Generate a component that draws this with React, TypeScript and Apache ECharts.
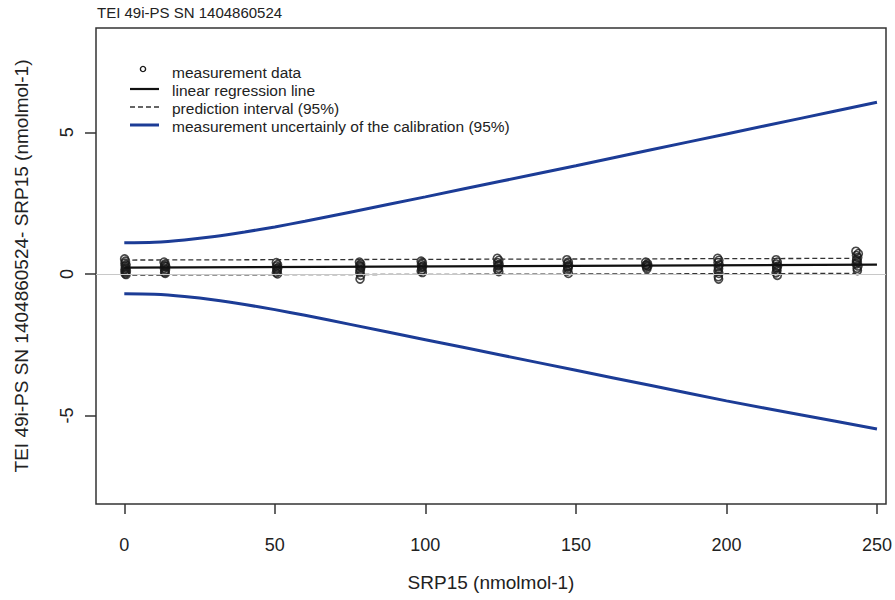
import React, { useEffect, useRef } from "react";
import * as echarts from "echarts";

const titleText = "TEI 49i-PS SN 1404860524";
const xAxisName = "SRP15 (nmolmol-1)";
const yAxisName = "TEI 49i-PS SN 1404860524- SRP15 (nmolmol-1)";
const legendNames = [
  "measurement data",
  "linear regression line",
  "prediction interval (95%)",
  "measurement uncertainly of the calibration (95%)",
];
const xTicks = [0, 50, 100, 150, 200, 250];
const yTicks = [-5, 0, 5];

// measurement data: [x, y]
const measurements: number[][] = [
  [0.1, 0.53], [0.4, 0.45], [0.2, 0.38], [0.6, 0.32], [0.3, 0.28], [0.5, 0.22], [0.2, 0.15], [0.7, 0.1], [0.4, 0.05], [0.3, 0.0], [0.6, -0.02], [0.5, 0.18], [0.3, 0.08],
  [13.2, 0.42], [13.6, 0.35], [13.4, 0.3], [13.8, 0.25], [13.3, 0.2], [13.7, 0.15], [13.5, 0.1], [13.4, 0.05], [13.6, 0.02], [13.5, 0.27],
  [50.5, 0.4], [50.9, 0.33], [50.6, 0.28], [51.0, 0.22], [50.7, 0.16], [50.8, 0.1], [50.5, 0.04], [50.9, 0.0], [50.7, 0.19],
  [78.1, 0.42], [78.5, 0.35], [78.2, 0.3], [78.6, 0.24], [78.3, 0.18], [78.4, 0.12], [78.2, 0.05], [78.5, -0.05], [78.3, -0.18], [78.4, 0.27],
  [98.6, 0.45], [99.0, 0.4], [98.7, 0.33], [99.1, 0.28], [98.8, 0.22], [98.9, 0.15], [98.6, 0.1], [99.0, 0.05], [98.8, 0.25],
  [123.9, 0.55], [124.4, 0.48], [124.0, 0.4], [124.5, 0.34], [124.2, 0.28], [124.3, 0.2], [124.0, 0.14], [124.4, 0.08], [124.2, 0.31],
  [147.0, 0.5], [147.5, 0.42], [147.2, 0.36], [147.6, 0.3], [147.3, 0.24], [147.4, 0.18], [147.1, 0.1], [147.5, 0.02], [147.3, 0.27],
  [173.2, 0.42], [173.8, 0.36], [173.4, 0.32], [173.9, 0.28], [173.5, 0.24], [173.6, 0.18], [173.3, 0.3],
  [197.1, 0.55], [197.5, 0.48], [197.2, 0.4], [197.6, 0.32], [197.3, 0.25], [197.4, 0.18], [197.2, 0.1], [197.5, 0.02], [197.3, -0.1], [197.4, -0.18],
  [216.5, 0.5], [216.9, 0.42], [216.6, 0.35], [217.0, 0.28], [216.7, 0.2], [216.8, 0.12], [216.5, 0.04], [216.9, -0.05], [216.7, 0.24],
  [243.0, 0.8], [243.8, 0.72], [243.2, 0.65], [243.6, 0.58], [243.3, 0.5], [243.5, 0.42], [243.1, 0.35], [243.7, 0.28], [243.4, 0.2], [243.5, 0.12], [243.2, 0.46],
];

const regressionLine: number[][] = [[0, 0.22], [250, 0.33]];
const predictionUpper: number[][] = [[0, 0.49], [243, 0.55]];
const predictionLower: number[][] = [[0, -0.04], [243, 0.02]];

const uncertaintyX = [0, 10, 20, 30, 40, 50, 60, 75, 100, 125, 150, 175, 200, 225, 250];
const uncertaintyUpper = [1.1, 1.12, 1.2, 1.32, 1.48, 1.66, 1.86, 2.18, 2.72, 3.27, 3.82, 4.38, 4.94, 5.5, 6.06];
const uncertaintyLower = [-0.7, -0.72, -0.8, -0.92, -1.08, -1.26, -1.46, -1.78, -2.32, -2.86, -3.4, -3.94, -4.48, -4.98, -5.47];

const FONT = "'Liberation Sans', Arial, sans-serif";
const BLUE = "#1c3c96";
const INK = "#222";

export default function App() {
  const ref = useRef<HTMLDivElement>(null);
  useEffect(() => {
    if (!ref.current) return;
    const chart = echarts.init(ref.current, undefined, { renderer: "svg" });
    const legendX = 130;
    const legendTextX = 172;
    const rows = [72, 90, 108, 126];
    chart.setOption({
      animation: false,
      backgroundColor: "#fff",
      textStyle: { fontFamily: FONT },
      grid: {
        left: 96, right: 9, top: 28, bottom: 96,
        show: true, borderColor: "#333", borderWidth: 1.5, backgroundColor: "transparent",
      },
      xAxis: {
        type: "value", min: -9.4, max: 253,
        name: xAxisName, nameLocation: "middle", nameGap: 69,
        nameTextStyle: { fontSize: 19, color: INK, fontFamily: FONT },
        axisLine: { show: false, onZero: false },
        splitLine: { show: false },
        axisTick: { show: true, customValues: xTicks, length: 10, lineStyle: { color: "#333", width: 1.5 } },
        axisLabel: { customValues: xTicks, fontSize: 18, color: INK, margin: 32, fontFamily: FONT },
      },
      yAxis: {
        type: "value", min: -8.12, max: 8.68,
        name: yAxisName, nameLocation: "middle", nameGap: 65,
        nameTextStyle: { fontSize: 19, color: INK, fontFamily: FONT },
        axisLine: { show: false, onZero: false },
        splitLine: { show: false },
        axisTick: { show: true, customValues: yTicks, length: 11, lineStyle: { color: "#333", width: 1.5 } },
        axisLabel: { customValues: yTicks, fontSize: 18, color: INK, margin: 20, rotate: 90, fontFamily: FONT },
      },
      series: [
        {
          type: "line", name: legendNames[3], data: uncertaintyX.map((x, i) => [x, uncertaintyUpper[i]]),
          symbol: "none", smooth: 0.3, lineStyle: { color: BLUE, width: 3 },
          markLine: {
            silent: true, symbol: "none", label: { show: false },
            lineStyle: { color: "#c8c8c8", width: 1.2, type: "solid" },
            data: [{ yAxis: 0 }],
          },
        },
        {
          type: "line", data: uncertaintyX.map((x, i) => [x, uncertaintyLower[i]]),
          symbol: "none", smooth: 0.3, lineStyle: { color: BLUE, width: 3 },
        },
        {
          type: "line", name: legendNames[2], data: predictionUpper,
          symbol: "none", lineStyle: { color: "#333", width: 1.3, type: [5, 3] },
        },
        {
          type: "line", data: predictionLower,
          symbol: "none", lineStyle: { color: "#333", width: 1.3, type: [5, 3] },
        },
        {
          type: "line", name: legendNames[1], data: regressionLine,
          symbol: "none", lineStyle: { color: "#111", width: 2.2 },
        },
        {
          type: "scatter", name: legendNames[0], data: measurements,
          symbol: "circle", symbolSize: 8,
          itemStyle: { color: "transparent", borderColor: "#1a1a1a", borderWidth: 1.6 },
        },
      ],
      graphic: [
        {
          type: "text", left: 97, top: 5,
          style: { text: titleText, fontSize: 15, fill: INK, fontFamily: FONT },
        },
        { type: "circle", shape: { cx: 143, cy: 69, r: 2.6 }, style: { fill: "none", stroke: "#1a1a1a", lineWidth: 1.4 } },
        { type: "line", shape: { x1: legendX, y1: 89, x2: legendX + 29, y2: 89 }, style: { stroke: "#111", lineWidth: 2.2 } },
        { type: "line", shape: { x1: legendX, y1: 107, x2: legendX + 29, y2: 107 }, style: { stroke: "#333", lineWidth: 1.3, lineDash: [5, 3] } },
        { type: "line", shape: { x1: legendX, y1: 125, x2: legendX + 29, y2: 125 }, style: { stroke: BLUE, lineWidth: 3 } },
        ...legendNames.map((name, i) => ({
          type: "text", x: legendTextX, y: rows[i],
          style: { text: name, fontSize: 15.5, fill: INK, fontFamily: FONT, verticalAlign: "middle", align: "left" },
        })),
      ],
    });
    return () => chart.dispose();
  }, []);
  return <div ref={ref} style={{ width: 895, height: 600, position: "absolute", left: 0, top: 0 }} />;
}
